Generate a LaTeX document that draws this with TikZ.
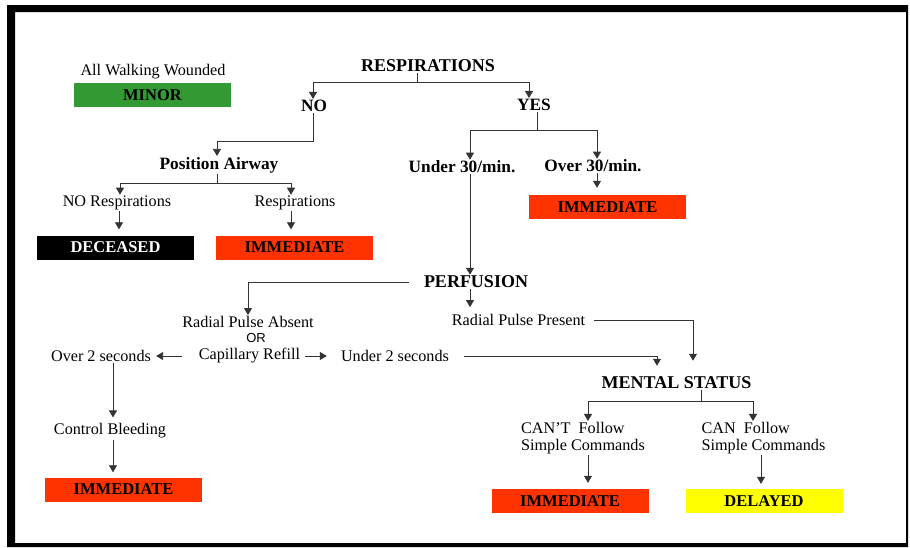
\documentclass[tikz,border=0pt]{standalone}
\usepackage{fontspec}
\setmainfont{Liberation Serif}
\newfontfamily\orfont{Liberation Sans}
\usetikzlibrary{arrows.meta}
\definecolor{immred}{HTML}{FF3300}
\definecolor{minorgreen}{HTML}{339933}
\definecolor{delayyellow}{HTML}{FFFF00}
\begin{document}
\begin{tikzpicture}[x=1pt,y=-1pt,
  txt/.style={inner sep=1pt, font=\fontsize{16.2}{17}\selectfont},
  mid/.style={inner sep=1pt, font=\fontsize{17.3}{19}\selectfont\bfseries},
  big/.style={inner sep=1pt, font=\fontsize{18}{20}\selectfont\bfseries},
  triage/.style={minimum width=157pt, minimum height=24pt, inner sep=0pt, font=\fontsize{16.5}{18}\selectfont\bfseries},
  conn/.style={draw=black!80, line width=0.8pt},
  arr/.style={conn, -{Triangle[width=8pt,length=7pt]}}]
\fill [white] (0,0) rectangle (910,547);
\useasboundingbox (0,0) rectangle (910,547);
\fill [black, even odd rule] (7,5) rectangle (908,547) (15,12) rectangle (906,543);
\node [txt] (walk) at (153,72) {All Walking Wounded};
\node [triage, fill=minorgreen] (minor) at (152.5,95) {MINOR};
\node [big] (resp) at (428,66) {RESPIRATIONS};
\node [mid] (no) at (314,106) {NO};
\node [mid] (yes) at (534,105) {YES};
\node [mid] (airway) at (219,165) {Position Airway};
\node [txt] (norsp) at (117,203) {NO Respirations};
\node [txt] (rsp) at (295,203) {Respirations};
\node [triage, fill=black, text=white] (dead) at (115.5,247.5) {DECEASED};
\node [triage, fill=immred] (imm1) at (294.5,247.5) {IMMEDIATE};
\node [mid] (under30) at (462,167) {Under 30/min.};
\node [mid] (over30) at (593,166) {Over 30/min.};
\node [triage, fill=immred] (imm2) at (607.5,207) {IMMEDIATE};
\node [big] (perf) at (476,282) {PERFUSION};
\node [txt] (absent) at (248,322) {Radial Pulse Absent};
\node [inner sep=1pt, font=\orfont\fontsize{13}{14}\selectfont] (or) at (256,338) {OR};
\node [txt] (cap) at (249.5,356) {Capillary Refill};
\node [txt] (under2) at (395,356) {Under 2 seconds};
\node [txt] (over2) at (101,356) {Over 2 seconds};
\node [txt] (bleed) at (110,431) {Control Bleeding};
\node [triage, fill=immred] (imm3) at (123.5,489.5) {IMMEDIATE};
\node [txt] (present) at (518.5,320) {Radial Pulse Present};
\node [big] (mental) at (676.5,383) {MENTAL STATUS};
\node [txt, align=left] (cant) at (583,438) {CAN'T~ Follow\\Simple Commands};
\node [txt, align=left] (can) at (763.5,438) {CAN~ Follow\\Simple Commands};
\node [triage, fill=immred] (imm4) at (570,501) {IMMEDIATE};
\node [triage, fill=delayyellow] (delayed) at (764,501) {DELAYED};
\coordinate (rj) at (417,82);
\coordinate (aj) at (217,141);
\coordinate (pj) at (217,183);
\coordinate (yj) at (537,130);
\coordinate (mj) at (701,401);
\draw [conn] (resp.south -| rj) -- (rj);
\draw [arr] (rj) -| ([xshift=-1pt]no.north);
\draw [arr] (rj) -| ([xshift=-5pt]yes.north);
\draw [arr] ([xshift=-1pt]no.south) |- (aj) -- (airway.north -| aj);
\draw [conn] (airway.south -| pj) -- (pj);
\draw [arr] (pj) -| ([xshift=3pt]norsp.north);
\draw [arr] (pj) -| ([xshift=-4pt]rsp.north);
\draw [arr, shorten >=6pt] ([xshift=2pt]norsp.south) -- ([xshift=2pt]norsp.south |- dead.north);
\draw [arr, shorten >=6pt] ([xshift=-4pt]rsp.south) -- ([xshift=-4pt]rsp.south |- imm1.north);
\draw [conn] (yes.south -| yj) -- (yj);
\draw [arr] (yj) -| ([xshift=8pt]under30.north);
\draw [arr] (yj) -| ([xshift=4pt]over30.north);
\draw [arr, shorten >=7pt] ([xshift=4pt]over30.south) -- ([xshift=4pt]over30.south |- imm2.north);
\draw [arr] ([xshift=8pt]under30.south) -- ([xshift=8pt]under30.south |- perf.north);
\draw [arr] ([xshift=-14pt]perf.west) -| (absent.north);
\draw [arr, shorten >=6pt] ([xshift=-6pt]perf.south) -- ([xshift=-6pt]perf.south |- present.north);
\draw [arr, shorten >=15pt] ([xshift=8pt]present.east) -| ([xshift=16.5pt]mental.north);
\draw [arr, shorten >=10pt] ([xshift=14pt]under2.east) -| ([xshift=-19.5pt]mental.north);
\draw [arr, shorten <=4pt, shorten >=13pt] (cap.east) -- (under2.west);
\draw [arr, shorten <=16pt, shorten >=4pt] (cap.west) -- (over2.east);
\draw [arr, shorten >=5pt] ([xshift=12pt]over2.south) -- ([xshift=12pt]over2.south |- bleed.north);
\draw [arr, shorten >=5pt] ([xshift=3pt]bleed.south) -- ([xshift=3pt]bleed.south |- imm3.north);
\draw [conn] (mental.south -| mj) -- (mj);
\draw [arr] (mj) -| ([xshift=5pt]cant.north);
\draw [arr] (mj) -| ([xshift=-10.5pt]can.north);
\draw [arr, shorten >=6pt] ([xshift=5pt]cant.south) -- ([xshift=5pt]cant.south |- imm4.north);
\draw [arr, shorten >=5pt] ([xshift=-2.5pt]can.south) -- ([xshift=-2.5pt]can.south |- delayed.north);
\end{tikzpicture}
\end{document}
